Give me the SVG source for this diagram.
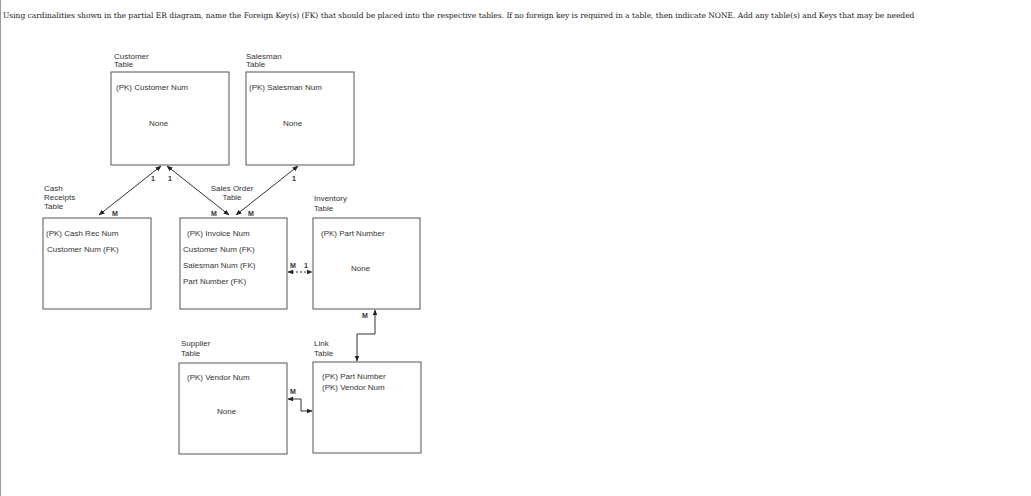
<svg xmlns="http://www.w3.org/2000/svg" width="1031" height="496" viewBox="0 0 1031 496">
<defs>
<marker id="ah" viewBox="0 0 10 10" refX="9" refY="5" markerWidth="6" markerHeight="6" orient="auto-start-reverse"><path d="M0,1 L10,5 L0,9 z" fill="#222"/></marker>
</defs>
<style>
text{font-family:"Liberation Sans",Arial,sans-serif;font-size:8px;fill:#333}
.t{font-family:"DejaVu Serif","Liberation Serif",serif;font-size:7.5px;fill:#222}
.b{font-weight:bold;font-size:7px}
rect{fill:#fff;stroke:#555;stroke-width:1}
.c{fill:none;stroke:#333;stroke-width:1}
</style>
<rect x="0" y="0" width="1031" height="496" style="fill:#fff;stroke:none"/>
<line x1="0.5" y1="0" x2="0.5" y2="496" stroke="#999"/>
<text class="t" x="3" y="18">Using cardinalities shown in the partial ER diagram, name the Foreign Key(s) (FK) that should be placed into the respective tables. If no foreign key is required in a table, then indicate NONE. Add any table(s) and Keys that may be needed</text>
<g id="customer"><text x="114" y="59">Customer</text><text x="114" y="67">Table</text><rect x="111" y="72" width="118" height="93"/><text x="116" y="90">(PK) Customer Num</text><text x="149" y="126">None</text></g>
<g id="salesman"><text x="246" y="59">Salesman</text><text x="246" y="67">Table</text><rect x="246" y="72" width="108" height="93"/><text x="249" y="90">(PK) Salesman Num</text><text x="283" y="126">None</text></g>
<g id="cash"><text x="44" y="191">Cash</text><text x="44" y="200">Receipts</text><text x="44" y="209">Table</text><rect x="43" y="218" width="108" height="91"/><text x="46" y="236">(PK) Cash Rec Num</text><text x="47" y="252">Customer Num (FK)</text></g>
<g id="salesorder"><text x="232" y="191" text-anchor="middle">Sales Order</text><text x="232" y="200" text-anchor="middle">Table</text><rect x="180" y="218" width="107" height="91"/><text x="187" y="236">(PK) Invoice Num</text><text x="183" y="252">Customer Num (FK)</text><text x="183" y="268">Salesman Num (FK)</text><text x="183" y="284">Part Number (FK)</text></g>
<g id="inventory"><text x="314" y="201">Inventory</text><text x="314" y="211">Table</text><rect x="313" y="218" width="107" height="91"/><text x="321" y="236">(PK) Part Number</text><text x="351" y="271">None</text></g>
<g id="supplier"><text x="181" y="346">Supplier</text><text x="181" y="356">Table</text><rect x="179" y="363" width="108" height="91"/><text x="187" y="380">(PK) Vendor Num</text><text x="217" y="414">None</text></g>
<g id="link"><text x="314" y="346">Link</text><text x="314" y="356">Table</text><rect x="313" y="362" width="108" height="91"/><text x="322" y="379">(PK) Part Number</text><text x="322" y="390">(PK) Vendor Num</text></g>
<g id="connectors">
<line class="c" x1="161" y1="166" x2="99" y2="215" marker-start="url(#ah)" marker-end="url(#ah)"/>
<line class="c" x1="167" y1="166" x2="229" y2="215" marker-start="url(#ah)" marker-end="url(#ah)"/>
<line class="c" x1="298" y1="166" x2="236" y2="215" marker-start="url(#ah)" marker-end="url(#ah)"/>
<line class="c" x1="288" y1="272" x2="312" y2="272" stroke-dasharray="2,2" marker-start="url(#ah)" marker-end="url(#ah)"/>
<polyline class="c" points="375,310 375,334 357,334 357,361" marker-start="url(#ah)" marker-end="url(#ah)"/>
<polyline class="c" points="288,399 301,399 301,411 312,411" marker-start="url(#ah)" marker-end="url(#ah)"/>
<text class="b" x="151" y="181">1</text><text class="b" x="168" y="181">1</text><text class="b" x="292" y="181">1</text>
<text class="b" x="112" y="216">M</text><text class="b" x="211" y="216">M</text><text class="b" x="248" y="216">M</text>
<text class="b" x="290" y="268">M</text><text class="b" x="304" y="268">1</text>
<text class="b" x="362" y="318">M</text><text class="b" x="290" y="394">M</text>
</g>
</svg>
